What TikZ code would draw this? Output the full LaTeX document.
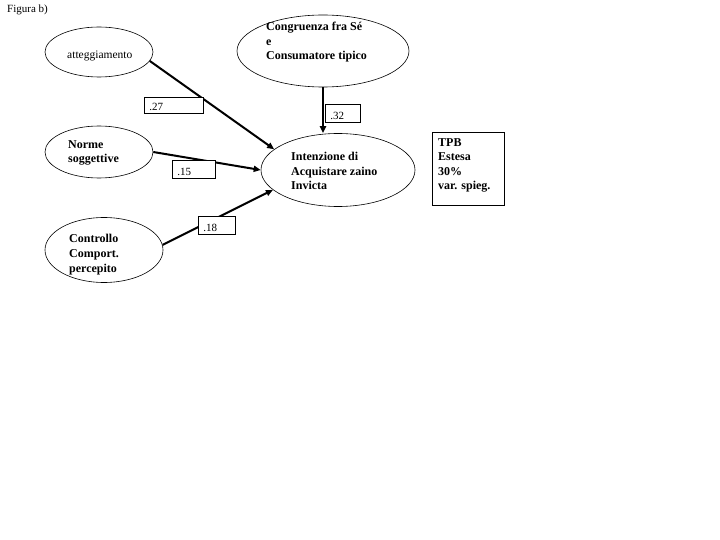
\documentclass[tikz,border=0pt]{standalone}
\usepackage{fontspec}
\setmainfont{Liberation Serif}
\usetikzlibrary{shapes.geometric,arrows.meta}
\begin{document}
\begin{tikzpicture}[x=1pt,y=-1pt,
  ell/.style={draw,ellipse,inner sep=0pt,line width=0.6pt},
  txt/.style={anchor=base west,inner sep=0pt,align=left,font=\bfseries\fontsize{12}{14.5}\selectfont},
  arr/.style={line width=2pt,-{Triangle[length=7pt,width=6pt]}},
  lbl/.style={draw,fill=white,line width=0.8pt,anchor=north west,inner ysep=0pt,inner xsep=5pt,
    align=left,text depth=3pt,font=\fontsize{11}{13}\selectfont}]
\useasboundingbox (0,0) rectangle (720,540);

\node[anchor=base west,inner sep=0pt,font=\fontsize{11}{13}\selectfont] (title) at (7,13) {Figura b)};

% ellipses
\node[ell,minimum width=172,minimum height=72] (cong) at (323,51) {};
\node[ell,minimum width=108,minimum height=50] (att) at (99,52) {};
\node[ell,minimum width=108,minimum height=52] (norm) at (99,152) {};
\node[ell,minimum width=118,minimum height=65] (ctrl) at (104,250) {};
\node[ell,minimum width=154,minimum height=73] (int) at (338,170) {};

% texts (anchored at the baseline of the last line)
\node[txt] (tcong) at (266,60) {Congruenza fra Sé\\e\\Consumatore tipico};
\node[anchor=base west,inner sep=0pt,font=\fontsize{11.5}{13}\selectfont] (tatt) at (67,59) {atteggiamento};
\node[txt] (tnorm) at (68,163) {Norme\\soggettive};
\node[txt] (tctrl) at (69,272) {Controllo\\Comport.\\percepito};
\node[txt] (tint) at (291,190) {Intenzione di\\Acquistare zaino\\Invicta};

% TPB box
\node[draw,line width=0.8pt,anchor=north west,minimum width=72,minimum height=73,inner sep=0pt] (tpb) at (432,132) {};
\node[txt] (ttpb) at (438,190) {TPB\\Estesa\\30\%\\var. spieg.};

% connectors
\draw[arr] (att.-10) -- (int.162);
\draw[arr] (cong.south) -- (cong.south |- int.north);
\draw[arr] (norm.east) -- (int.west);
\draw[arr] (ctrl.5) -- (int.-163);

% coefficient labels
\node[lbl,text width=49,text height=13] (l27) at (144,97) {.27};
\node[lbl,text width=25,text height=15] (l32) at (325,104) {.32};
\node[lbl,text width=33,text height=15] (l15) at (172,160) {.15};
\node[lbl,text width=27,text height=15] (l18) at (198,216) {.18};
\end{tikzpicture}
\end{document}
